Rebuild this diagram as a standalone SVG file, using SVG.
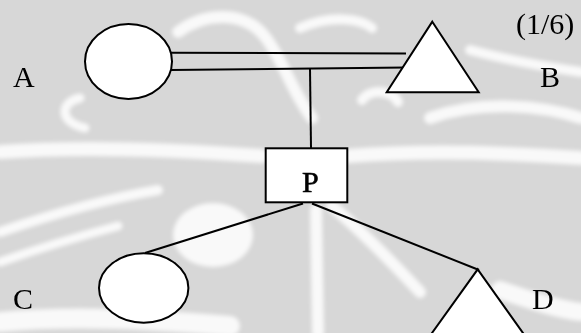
<svg xmlns="http://www.w3.org/2000/svg" width="581" height="333" viewBox="0 0 581 333">
  <defs>
    <filter id="soft" x="-10%" y="-10%" width="120%" height="120%">
      <feGaussianBlur stdDeviation="2"/>
    </filter>
    <style>
      .wm { fill: none; stroke: #ffffff; stroke-linecap: round; opacity: 0.85; }
      .shape { fill: #ffffff; stroke: #000000; stroke-width: 2; }
      .link { fill: none; stroke: #000000; stroke-width: 2; }
      .label { font-family: "Liberation Serif", "Times New Roman", serif; font-size: 30px; fill: #000000; }
    </style>
  </defs>

  <!-- background watermark -->
  <rect x="0" y="0" width="581" height="333" fill="#d7d7d7"/>
  <g id="watermark" filter="url(#soft)">
    <path class="wm" stroke-width="12" d="M 178 32 C 205 12, 245 10, 266 38 C 284 62, 292 92, 312 118"/>
    <path class="wm" stroke-width="10" d="M 300 28 C 330 15, 360 18, 372 28"/>
    <path class="wm" stroke-width="9" d="M 80 98 C 60 102, 58 122, 85 128"/>
    <path class="wm" stroke-width="14" d="M 0 152 C 80 146, 180 150, 262 156"/>
    <path class="wm" stroke-width="14" d="M 348 156 C 420 150, 500 152, 581 158"/>
    <path class="wm" stroke-width="10" d="M 362 100 C 370 88, 392 90, 398 102"/>
    <path class="wm" stroke-width="12" d="M 430 118 C 480 100, 540 105, 581 118"/>
    <path class="wm" stroke-width="10" d="M 470 50 C 500 58, 540 66, 581 72"/>
    <path class="wm" stroke-width="10" d="M 0 232 C 50 215, 110 198, 158 190"/>
    <path class="wm" stroke-width="9" d="M 0 262 C 40 248, 80 236, 118 226"/>
    <ellipse cx="213" cy="235" rx="40" ry="32" fill="#ffffff" opacity="0.85"/>
    <path class="wm" stroke-width="12" d="M 316 210 L 318 333"/>
    <path class="wm" stroke-width="12" d="M 332 206 C 360 230, 392 262, 420 292"/>
    <path class="wm" stroke-width="20" d="M 0 322 C 60 316, 140 318, 230 326"/>
    <path class="wm" stroke-width="18" d="M 500 290 C 530 300, 560 310, 581 312"/>
  </g>

  <!-- connectors -->
  <g id="connectors">
    <path class="link" d="M 171 52.7 L 406 53.5"/>
    <path class="link" d="M 171 70 L 406 67.6"/>
    <path class="link" d="M 310 69 L 311 148"/>
    <path class="link" d="M 303 203.5 L 145 253"/>
    <path class="link" d="M 312 203.5 L 479 270"/>
  </g>

  <!-- nodes -->
  <g id="node-a">
    <ellipse class="shape" cx="128.5" cy="61.5" rx="43.5" ry="37.5"/>
    <text class="label" x="13" y="87">A</text>
  </g>
  <g id="node-b">
    <polygon class="shape" points="432.3,21.7 478.7,92.3 386.7,92.3"/>
    <text class="label" x="540" y="87">B</text>
    <text class="label" x="516" y="34" font-size="27">(1/6)</text>
  </g>
  <g id="node-p">
    <rect class="shape" x="265.7" y="148.3" width="81.6" height="54"/>
    <text class="label" x="302" y="192" font-size="36" stroke="#000000" stroke-width="0.6">P</text>
  </g>
  <g id="node-c">
    <ellipse class="shape" cx="143.7" cy="288" rx="44.7" ry="34.7"/>
    <text class="label" x="13" y="309">C</text>
  </g>
  <g id="node-d">
    <polygon class="shape" points="477.7,269.3 528,340 427,340"/>
    <text class="label" x="532" y="309">D</text>
  </g>
</svg>
